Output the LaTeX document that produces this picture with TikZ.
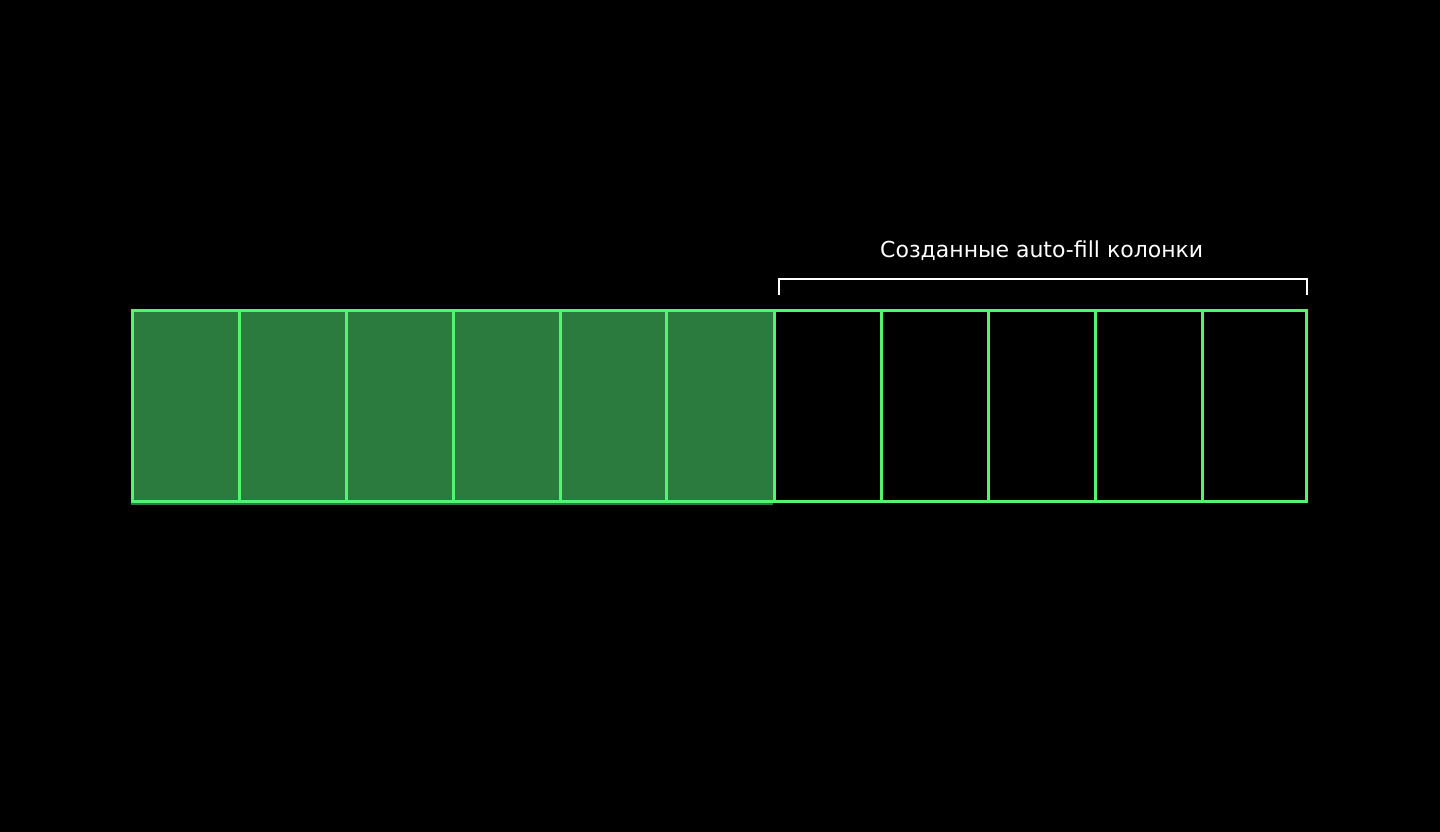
\documentclass[tikz,border=0pt]{standalone}
\usepackage{fontspec}
\setmainfont{DejaVu Sans}
\definecolor{gline}{RGB}{82,245,112}
\definecolor{gfill}{RGB}{43,123,63}
\begin{document}
\begin{tikzpicture}[x=1pt,y=-1pt,
  gridline/.style={draw=gline,line width=3pt},
  bracketline/.style={draw=white,line width=2pt},
  label/.style={text=white,font=\fontsize{22}{26}\selectfont,inner sep=0pt,anchor=base}]
\fill[black] (0,0) rectangle (1440,832);
\useasboundingbox (0,0) rectangle (1440,832);
\fill[gfill] (131,309) rectangle (772.7,504.5);
\foreach \x in {239.3,346.2,453.1,560.0,666.9,774.0,881.0,988.0,1095.0,1202.0} {
  \draw[gridline] (\x,310.5) -- (\x,501);
}
\draw[gridline] (132.5,310.5) rectangle (1306.5,501);
\coordinate (bl) at (779,295);
\coordinate (br) at (1307,295);
\draw[bracketline] (bl) -- (779,279) -- (1307,279) -- (br);
\node[label] (title) at (1041.7,257) {Созданные auto-fill колонки};
\end{tikzpicture}
\end{document}
